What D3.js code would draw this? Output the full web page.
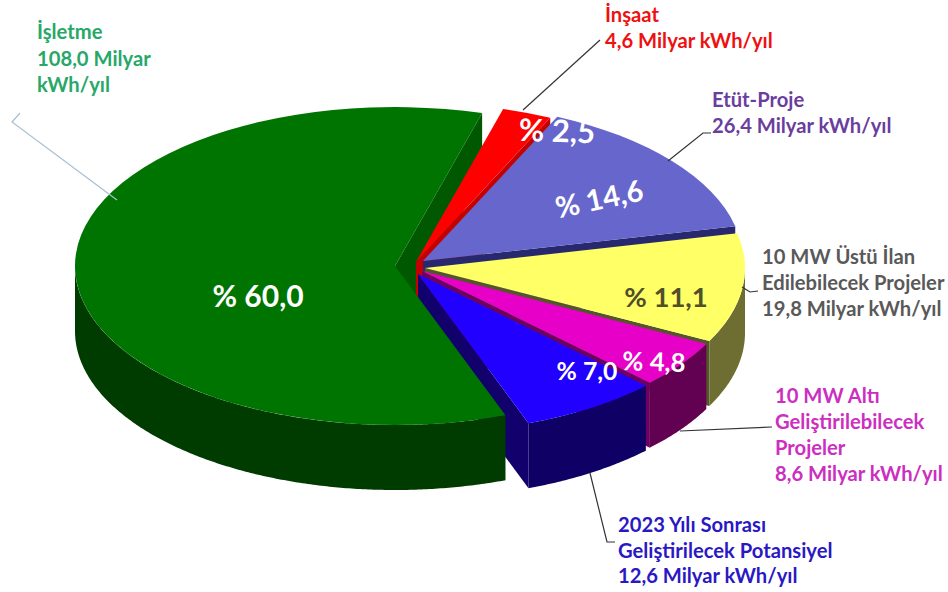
<!DOCTYPE html>
<html lang="tr">
<head>
<meta charset="utf-8">
<title>Hidroelektrik potansiyel dağılımı</title>
<script src="https://cdn.jsdelivr.net/npm/d3@7/dist/d3.min.js"></script>
<style>
  html, body { margin: 0; padding: 0; background: #fff; }
  svg { display: block; font-family: Lato, "Open Sans", sans-serif; font-weight: 700; }
</style>
</head>
<body>
<svg id="chart" width="948" height="592"></svg>
<script>
// Share of the potential per project stage (percent)
const shares = [60.0, 2.5, 14.6, 11.1, 4.8, 7.0];
// Yearly energy per stage (billion kWh)
const energy = [108.0, 4.6, 26.4, 19.8, 8.6, 12.6];
// Stage names, one entry per line of the callout
const stageNames = [
  ["İşletme"],
  ["İnşaat"],
  ["Etüt-Proje"],
  ["10 MW Üstü İlan", "Edilebilecek Projeler"],
  ["10 MW Altı", "Geliştirilebilecek", "Projeler"],
  ["2023 Yılı Sonrası", "Geliştirilecek Potansiyel"]
];

// Pie geometry
const deg = Math.PI / 180;
const rx = 320, ry = 159, depth = 65;
const centre = { x: 420, y: 265 };
const pieStart = 159.8 * deg;

// Faces of each slice and the colour of its callout
const topFill   = ["#007400", "#ff0000", "#6666cc", "#ffff66", "#e600c8", "#2200ff"];
const edgeFill  = ["#005800", "#c40000", "#28286e", "#55552a", "#6e0060", "#12006c"];
const sideFill  = ["#003c00", "#a00000", "#28286e", "#6e6e33", "#620052", "#0e0064"];
const textFill  = ["#27a868", "#ee1111", "#6a3d9e", "#595959", "#cc2fc0", "#2a18c4"];

// How far each slice is pulled out of the pie
const pull = [
  { dx: -25, dy: 1 }, { dx: -4, dy: -3 }, { dx: 3, dy: -4 },
  { dx: 5, dy: 3 }, { dx: 2, dy: 6 }, { dx: -2, dy: 9 }
];

// Callout placement: left edge, first baseline, line step, leader polyline
const callouts = [
  { x: 37,  y: 39,  step: 26.5, leader: [[20, 113], [12, 122], [117, 200]], stroke: "#a9bfd0" },
  { x: 605, y: 22,  step: 26,   leader: [[523, 110], [600, 40]], stroke: "#333" },
  { x: 712, y: 107, step: 26,   leader: [[668, 161], [703, 133], [711, 133]], stroke: "#333" },
  { x: 762, y: 264, step: 26,   leader: [[742, 287], [750, 292], [758, 291]], stroke: "#333" },
  { x: 775, y: 403, step: 26,   leader: [[680, 431], [772, 427]], stroke: "#333" },
  { x: 618, y: 532, step: 25.5, leader: [[590, 473], [607, 542], [615, 542]], stroke: "#333" }
];

// Percent labels on the slices
const shareLabels = [
  { x: 258, y: 295, size: 30,   angle: 0,   fill: "#fff" },
  { x: 557, y: 130, size: 31,   angle: 2,   fill: "#fff" },
  { x: 599, y: 198, size: 29.3, angle: -12, fill: "#fff" },
  { x: 666, y: 296, size: 27.5, angle: 0,   fill: "#4f4f2a" },
  { x: 654, y: 361, size: 25.8, angle: 2,   fill: "#fff" },
  { x: 587, y: 370, size: 24.8, angle: 0,   fill: "#fff" }
];

const comma = v => d3.format(".1f")(v).replace(".", ",");

const slices = d3.pie().sort(null).startAngle(pieStart).endAngle(pieStart + 2 * Math.PI)(shares);

const svg = d3.select("#chart");
const topArc = d3.arc().innerRadius(0).outerRadius(rx);

const originOf = i => ({ x: centre.x + pull[i].dx, y: centre.y + pull[i].dy });
const rimPoint = (i, a) => {
  const o = originOf(i);
  return [o.x + rx * Math.sin(a), o.y - ry * Math.cos(a)];
};

// Radial wall that hangs below the clockwise edge of a slice
function drawEdgeWall(i) {
  const o = originOf(i);
  const rim = rimPoint(i, slices[i].endAngle);
  const wall = [[o.x, o.y], rim, [rim[0], rim[1] + depth], [o.x, o.y + depth]];
  svg.append("path").attr("d", d3.line()(wall) + "Z").attr("fill", edgeFill[i]);
}

// Outer curved wall, only the part that faces the viewer
function drawRimWall(i) {
  const wrap = a => a % (2 * Math.PI);
  const s = slices[i];
  const from = Math.max(wrap(s.startAngle), 90 * deg);
  const span = s.endAngle - s.startAngle;
  const to = Math.min(wrap(s.startAngle) + span, 270 * deg);
  if (to <= from) return;
  const angles = d3.range(from, to, 0.5 * deg).concat([to]);
  const area = d3.area()
    .x(a => rimPoint(i, a)[0])
    .y0(a => rimPoint(i, a)[1])
    .y1(a => rimPoint(i, a)[1] + depth);
  svg.append("path").attr("d", area(angles)).attr("fill", sideFill[i]);
}

function drawTop(i) {
  const o = originOf(i);
  svg.append("path")
    .attr("transform", `translate(${o.x},${o.y}) scale(1,${ry / rx})`)
    .attr("d", topArc(slices[i]))
    .attr("fill", topFill[i]);
}

// Painting order: inner walls go first, clockwise, so the green top can trim them;
// the outer walls and top faces then overlap one another clockwise.
[0, 1, 2, 3, 4, 5].forEach(drawEdgeWall);
[0, 1, 2, 3, 4, 5].forEach(i => {
  drawRimWall(i);
  drawTop(i);
});

// Leader lines
callouts.forEach(c => {
  svg.append("path")
    .attr("d", d3.line()(c.leader))
    .attr("fill", "none")
    .attr("stroke", c.stroke)
    .attr("stroke-width", 1.2);
});

// Callouts: stage name and yearly energy
callouts.forEach((c, i) => {
  const amount = `${comma(energy[i])} Milyar kWh/yıl`;
  const lines = i === 0
    ? stageNames[i].concat([`${comma(energy[i])} Milyar`, "kWh/yıl"])
    : stageNames[i].concat([amount]);
  const text = svg.append("text").attr("fill", textFill[i]).attr("font-size", 20.2);
  lines.forEach((line, k) => {
    text.append("tspan").attr("x", c.x).attr("y", c.y + k * c.step).text(line);
  });
});

// Percent labels
shareLabels.forEach((l, i) => {
  svg.append("text")
    .attr("transform", `translate(${l.x},${l.y}) rotate(${l.angle})`)
    .attr("text-anchor", "middle")
    .attr("dominant-baseline", "central")
    .attr("font-size", l.size)
    .attr("fill", l.fill)
    .text(`% ${comma(shares[i])}`);
});
</script>
</body>
</html>
